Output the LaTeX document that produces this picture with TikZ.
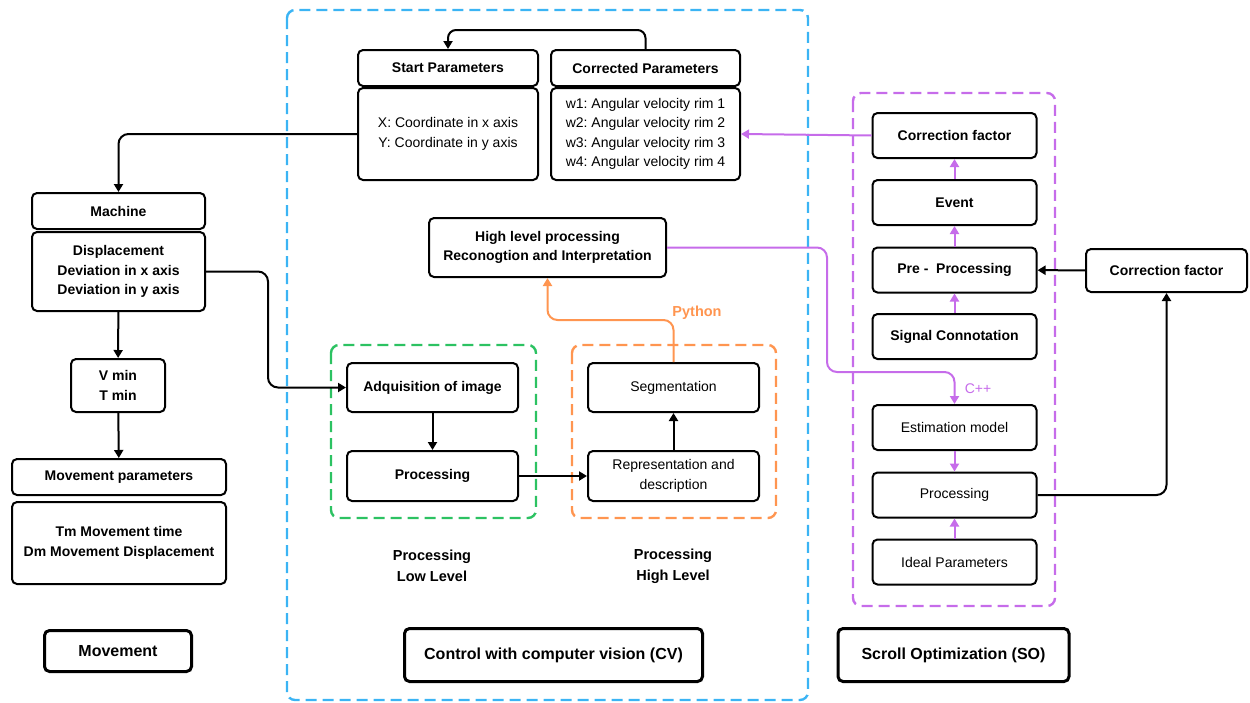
\documentclass[tikz,border=0pt]{standalone}
\usepackage{fontspec}
\setmainfont{Liberation Sans}
\usetikzlibrary{positioning,arrows.meta,calc}
\definecolor{cvblue}{HTML}{3BB4F4}
\definecolor{lowgreen}{HTML}{2CC262}
\definecolor{highorange}{HTML}{FF9550}
\definecolor{sopurple}{HTML}{C66CEA}
\frenchspacing

\begin{document}
\begin{tikzpicture}[
    x=1pt, y=-1pt,
    font=\fontsize{14}{19.5}\selectfont,
    box/.style={rectangle, draw, rounded corners=5pt, line width=2pt, align=center, inner sep=2pt},
    bbox/.style={box, font=\fontsize{14}{19.5}\selectfont\bfseries},
    sobox/.style={minimum width=164pt, minimum height=45pt},
    lblbox/.style={rectangle, draw, rounded corners=5pt, line width=3pt, font=\fontsize{16}{20}\selectfont\bfseries},
    zone/.style={draw, dash pattern=on 11pt off 6pt, rounded corners=8pt, line width=2.4pt},
    sublbl/.style={align=center, font=\fontsize{14.5}{21}\selectfont\bfseries},
    arrow/.style={-{Triangle[length=8pt,width=9pt]}, line width=2pt},
    parrow/.style={arrow, sopurple},
    oarrow/.style={arrow, highorange}
]
\useasboundingbox (0,0) rectangle (1250,702);

\draw[zone, cvblue] (287,10) rectangle (808,700);
\draw[zone, lowgreen] (331,345) rectangle (536,518);
\draw[zone, highorange] (572,345) rectangle (776,518);
\draw[zone, sopurple] (853,93) rectangle (1055,606);

% movement column
\node[bbox, minimum width=173pt, minimum height=36pt] (mach) at (118.5,211) {Machine};
\node[bbox, minimum width=173pt, minimum height=79pt, below=1pt of mach] (machb) {Displacement\\Deviation in x axis\\Deviation in y axis};
\node[bbox, minimum width=94pt, minimum height=53pt] (vmin) at (118,385.5) {V min\\T min};
\node[bbox, minimum width=214pt, minimum height=36pt] (mvp) at (119,477) {Movement parameters};
\node[bbox, minimum width=214pt, minimum height=82pt, below=5pt of mvp] (mvpb) {Tm Movement time\\Dm Movement Displacement};
\node[lblbox, minimum width=147pt, minimum height=41pt] (mov) at (118,651) {Movement};

% computer vision
\node[bbox, minimum width=180pt, minimum height=36pt] (sph) at (448,68) {Start Parameters};
\node[box, minimum width=180pt, minimum height=92pt, below=0pt of sph] (spb) {X: Coordinate in x axis\\Y: Coordinate in y axis};
\node[bbox, minimum width=189pt, minimum height=36pt] (cph) at (645.5,68) {Corrected Parameters};
\node[box, minimum width=189pt, minimum height=92pt, below=0pt of cph] (cpb) {w1: Angular velocity rim 1\\w2: Angular velocity rim 2\\w3: Angular velocity rim 3\\w4: Angular velocity rim 4};
\node[bbox, minimum width=237pt, minimum height=59pt] (hlp) at (547.5,247.5) {High level processing\\Reconogtion and Interpretation};
\node[bbox, minimum width=171pt, minimum height=49pt] (acq) at (432.5,387.5) {Adquisition of image};
\node[bbox, minimum width=171pt, minimum height=50pt] (procl) at (432.5,476) {Processing};
\node[box, minimum width=171pt, minimum height=49pt] (seg) at (673.5,387.5) {Segmentation};
\node[box, minimum width=171pt, minimum height=50pt] (rep) at (673.5,476) {Representation and\\description};
\node[sublbl] (lowlbl) at (432,566) {Processing\\Low Level};
\node[sublbl] (highlbl) at (673,566) {Processing\\High Level};
\node[sublbl, text=highorange] (py) at (697,313) {Python};
\node[lblbox, minimum width=298pt, minimum height=53pt] (cv) at (553.5,655) {Control with computer vision (CV)};

% scroll optimization
\node[bbox, sobox] (cfi) at (954.5,135.5) {Correction factor};
\node[bbox, sobox] (evt) at (954.5,202.5) {Event};
\node[bbox, sobox] (prep) at (954.5,270) {Pre -\ \ Processing};
\node[bbox, sobox] (sig) at (954.5,336.5) {Signal Connotation};
\node[box, sobox] (est) at (954.5,427.5) {Estimation model};
\node[box, sobox] (procr) at (954.5,495) {Processing};
\node[box, sobox] (ideal) at (954.5,562) {Ideal Parameters};
\node[text=sopurple, font=\fontsize{14}{16}\selectfont] (cpp) at (978,389) {C++};
\node[bbox, minimum width=161pt, minimum height=43pt] (cfo) at (1166.5,270.5) {Correction factor};
\node[lblbox, minimum width=231pt, minimum height=53pt] (so) at (953.5,655) {Scroll Optimization (SO)};

\draw[arrow, rounded corners=8pt] (cph.north) -- ++(0,-19) -| (sph.north);
\draw[arrow, rounded corners=10pt] (spb.west) -| (mach.north);
\draw[arrow, rounded corners=10pt] (machb.east) -- ++(62,0) |- (acq.west);
\draw[arrow] (machb) -- (vmin);
\draw[arrow] (vmin) -- (mvp);
\draw[arrow] (acq) -- (procl);
\draw[arrow] (procl) -- (rep);
\draw[arrow] (rep) -- (seg);
\draw[oarrow, rounded corners=10pt] (seg.north) -- ++(0,-42) -| (hlp.south);
\draw[parrow, rounded corners=10pt] (hlp.east) -| (827,372) -| (est.north);
\draw[parrow] (cfi.west) -- (cpb.east);
\draw[parrow] (evt) -- (cfi);
\draw[parrow] (prep) -- (evt);
\draw[parrow] (sig) -- (prep);
\draw[parrow] (est) -- (procr);
\draw[parrow] (ideal) -- (procr);
\draw[arrow] (cfo) -- (prep);
\draw[arrow, rounded corners=10pt] (procr.east) -| (cfo.south);
\end{tikzpicture}
\end{document}
